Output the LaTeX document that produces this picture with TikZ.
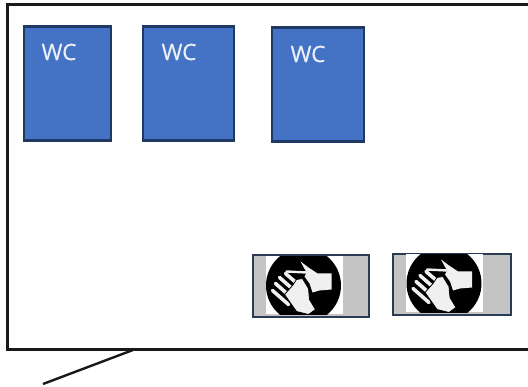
\documentclass[tikz,border=0pt]{standalone}
\usepackage{fontspec}
\setmainfont{Open Sans}
\definecolor{wcblue}{HTML}{4472C4}
\definecolor{wcedge}{HTML}{1F3864}
\definecolor{iconedge}{HTML}{2B3A55}
\definecolor{icongrey}{HTML}{C4C4C4}
\definecolor{handwhite}{HTML}{F0F0F0}
\tikzset{
  x=1pt,y=-1pt,
  wcbox/.style={draw=wcedge,line width=2.2pt,fill=wcblue,anchor=north west,inner sep=0pt},
  wctext/.style={text=white!90!wcblue,font=\fontsize{22.5}{26}\selectfont\addfontfeature{FakeBold=0.6},inner sep=0pt},
  iconbox/.style={draw=iconedge,line width=2.2pt,fill=icongrey,anchor=north west,inner sep=0pt},
  wallline/.style={draw=black!90,line width=3pt},
  finger/.style={draw=handwhite,line width=3.6pt,line cap=round},
  pics/handicon/.style={code={
    \fill[white] (-38,-29) rectangle (39,29);
    \begin{scope}
      \clip (-38,-29) rectangle (39,29);
      \fill[black] (0,0) circle (37.5);
    \end{scope}
    % right hand
    \fill[handwhite] (-3,-24) -- (5,-18) -- (14,-12) -- (28,-12) -- (28,4) -- (16,5) -- (9,7) -- (6,-2) -- (1,-9) -- (3,-13) -- cycle;
    % left hand
    \draw[finger] (-31,5) -- (-15,19);
    \draw[finger] (-28,-2) -- (-12,12);
    \draw[finger] (-24,-8) -- (-8,6);
    \draw[finger] (-18,-12) -- (-4,0);
    \fill[handwhite,draw=black,line width=0.8pt] (-19,9) -- (-11,0) -- (-7,-6) -- (-1,-7) -- (5,3) -- (6,14) -- (12,24) -- (5,29) -- (-7,26) -- cycle;
    \draw[handwhite,line width=2.4pt,line cap=round] (-17,-14) -- (3,-13);
  }}
}
\begin{document}
\begin{tikzpicture}
\useasboundingbox (0,0) rectangle (528,387);
\fill[white] (0,0) rectangle (528,387);
\coordinate (roomtr) at (530,5);
\coordinate (roomtl) at (7,5);
\coordinate (roombl) at (7,350);
\coordinate (roombr) at (530,350);
\coordinate (linefrom) at (133,350);
\coordinate (lineto) at (43,384);
\draw[wallline] (roomtr) -- (roomtl) -- (roombl) -- (roombr);
\draw[wallline,line width=2.4pt] (linefrom) -- (lineto);

\node[wcbox,minimum width=87pt,minimum height=114pt] (wca) at (22.5,25.5) {};
\node[wcbox,minimum width=91pt,minimum height=114pt] (wcb) at (141.5,25.5) {};
\node[wcbox,minimum width=92pt,minimum height=114pt] (wcc) at (270.5,26.5) {};
\node[wctext] (wcat) at (59,52) {WC};
\node[wctext] (wcbt) at (179,52) {WC};
\node[wctext] (wcct) at (308,54) {WC};

\node[iconbox,minimum width=116pt,minimum height=62pt] (hba) at (252,254) {};
\node[iconbox,minimum width=118pt,minimum height=61pt] (hbb) at (392,253) {};
\pic at (303.5,285.5) {handicon};
\pic at (444,283.5) {handicon};
\end{tikzpicture}
\end{document}
